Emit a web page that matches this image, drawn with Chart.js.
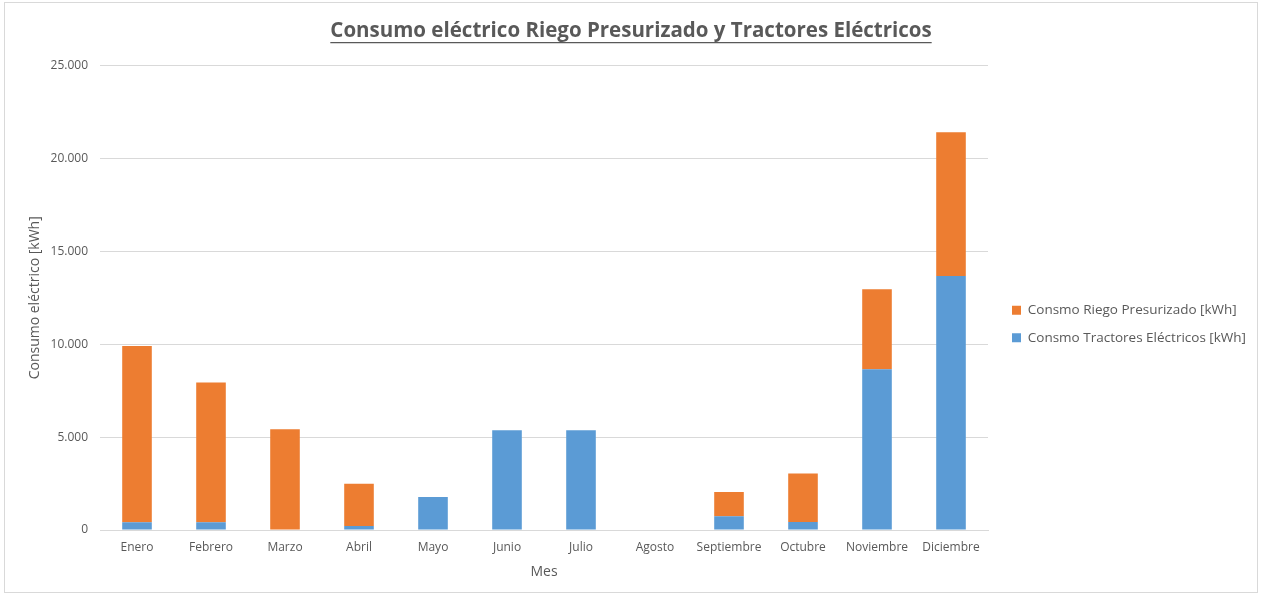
<!DOCTYPE html>
<html>
<head>
<meta charset="utf-8">
<script src="https://cdn.jsdelivr.net/npm/chart.js@4.4.0/dist/chart.umd.min.js"></script>
<style>
  body { margin: 0; background: #fff; }
  #box { position: absolute; left: 0; top: 0; width: 1261px; height: 596px; }
  #frame { position: absolute; left: 4px; top: 2px; width: 1254px; height: 591px; border: 1px solid #d9d9d9; box-sizing: border-box; pointer-events: none; }
</style>
</head>
<body>
<div id="box"><canvas id="chart" width="1261" height="596"></canvas></div>
<div id="frame"></div>
<script>
// data
const months = ['Enero', 'Febrero', 'Marzo', 'Abril', 'Mayo', 'Junio', 'Julio', 'Agosto', 'Septiembre', 'Octubre', 'Noviembre', 'Diciembre'];
const tractores = [420, 420, 0, 215, 1775, 5375, 5375, 0, 735, 430, 8655, 13670];
const riego = [9490, 7520, 5430, 2275, 0, 0, 0, 0, 1310, 2615, 4300, 7745];
const yTicks = [0, 5000, 10000, 15000, 20000, 25000];

const textColor = '#595959';
const gridColor = '#d9d9d9';
const fontFamily = "'Open Sans', 'Liberation Sans', sans-serif";

// puts thousands dots like Excel in Spanish
const fmt = v => v === 0 ? '0' : String(v).replace(/\B(?=(\d{3})+(?!\d))/g, '.');

// nudge title and legend to where Excel puts them
const nudgeBoxes = {
  id: 'nudgeBoxes',
  afterLayout(chart) {
    const t = chart.titleBlock;
    const mid = 631 - (t.left + t.right) / 2;
    t.left += mid; t.right += mid;

    const lg = chart.legend;
    const dx = chart.chartArea.right + 24 - (lg.left + lg.options.labels.padding);
    lg.left += dx; lg.right += dx;
    lg.top += 26; lg.bottom += 26;
  }
};

// underline the chart title
const underlineTitle = {
  id: 'underlineTitle',
  afterDraw(chart) {
    const t = chart.titleBlock;
    if (!t) return;
    const ctx = chart.ctx;
    const opts = chart.options.plugins.title;
    ctx.save();
    ctx.font = `bold ${opts.font.size}px ${fontFamily}`;
    const w = ctx.measureText(opts.text).width;
    const cx = (t.left + t.right) / 2;
    const y = t.top + opts.padding.top + opts.font.size * 1.2 / 2 + opts.font.size * 0.5 + 1;
    ctx.strokeStyle = textColor;
    ctx.lineWidth = 1.2;
    ctx.beginPath();
    ctx.moveTo(cx - w / 2, y);
    ctx.lineTo(cx + w / 2, y);
    ctx.stroke();
    ctx.restore();
  }
};

const ctx = document.getElementById('chart').getContext('2d');
const chart = new Chart(ctx, {
  type: 'bar',
  data: {
    labels: months,
    datasets: [{
      label: 'Consmo Tractores Eléctricos [kWh]',
      data: tractores,
      backgroundColor: '#5b9bd5',
      barPercentage: 0.8,
      categoryPercentage: 0.5
    }, {
      label: 'Consmo Riego Presurizado [kWh]',
      data: riego,
      backgroundColor: '#ed7d31',
      barPercentage: 0.8,
      categoryPercentage: 0.5
    }]
  },
  options: {
    responsive: false,
    animation: false,
    layout: { padding: { top: 0, left: 0, right: 15, bottom: 0 } },
    scales: {
      x: {
        stacked: true,
        grid: { display: false, drawTicks: false },
        border: { color: gridColor },
        ticks: { color: textColor, font: { family: fontFamily, size: 12 }, padding: 10, maxRotation: 0 },
        title: { display: true, text: 'Mes', color: textColor, font: { family: fontFamily, size: 14 }, padding: { top: 0, bottom: 16 } },
        afterFit: s => { s.height = 66; }
      },
      y: {
        stacked: true,
        min: 0,
        max: 25000,
        afterBuildTicks: s => { s.ticks = yTicks.map(v => ({ value: v })); },
        grid: { color: gridColor, drawTicks: false },
        border: { display: false },
        ticks: { color: textColor, font: { family: fontFamily, size: 12 }, padding: 12, callback: v => fmt(v) },
        title: { display: true, text: 'Consumo eléctrico [kWh]', color: textColor, font: { family: fontFamily, size: 14 }, padding: { top: 27 } },
        afterFit: s => { s.width = 100; }
      }
    },
    plugins: {
      title: {
        display: true,
        text: 'Consumo eléctrico Riego Presurizado y Tractores Eléctricos',
        color: textColor,
        font: { family: fontFamily, size: 20.5, weight: 'bold' },
        padding: { top: 19, bottom: 22 }
      },
      legend: {
        position: 'right',
        reverse: true,
        labels: {
          color: textColor,
          font: { family: fontFamily, size: 13.5 },
          boxWidth: 9,
          boxHeight: 9,
          padding: 14
        }
      },
      tooltip: { enabled: false }
    }
  },
  plugins: [nudgeBoxes, underlineTitle]
});
</script>
</body>
</html>
